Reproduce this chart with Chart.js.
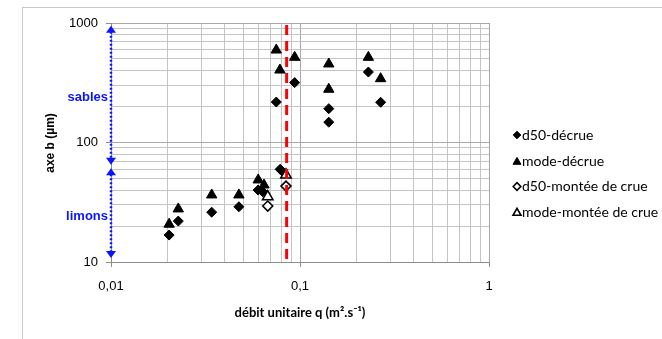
<!DOCTYPE html>
<html lang="fr">
<head>
<meta charset="UTF-8">
<title>Axe b en fonction du débit unitaire</title>
<script src="https://cdn.jsdelivr.net/npm/chart.js"></script>
<style>
  html, body { margin: 0; padding: 0; background: #fff; }
  #wrap { position: relative; width: 662px; height: 339px; overflow: hidden; }
  #frame { position: absolute; left: 22px; top: 7px; right: -2px; bottom: -2px;
           border-left: 1px solid #c8c8c8; border-top: 1px solid #c8c8c8; }
  canvas { position: absolute; left: 0; top: 0; }
</style>
</head>
<body>
<div id="wrap">
  <div id="frame"></div>
  <canvas id="chart" width="662" height="339"></canvas>
</div>
<script>
// débit unitaire q (m².s-1) and axe b (µm)
const d50DecrueQ = [0.0203, 0.0227, 0.0341, 0.0475, 0.0600, 0.0635, 0.0785, 0.0805, 0.0749, 0.0937, 0.142, 0.142, 0.230, 0.267];
const d50DecrueB = [16.8, 22.0, 26.1, 29.0, 40.0, 38.7, 59.7, 57.5, 218, 317, 192, 148, 389, 217];

const modeDecrueQ = [0.0203, 0.0227, 0.0341, 0.0475, 0.0601, 0.0645, 0.0749, 0.0783, 0.0937, 0.142, 0.142, 0.230, 0.267];
const modeDecrueB = [20.7, 27.8, 36.4, 36.4, 48.6, 44.1, 594, 404, 516, 454, 279, 516, 342];

const d50MonteeQ = [0.0675, 0.0843];
const d50MonteeB = [29.4, 43.2];

const modeMonteeQ = [0.0675, 0.0843];
const modeMonteeB = [35.2, 53.5];

// threshold line and grain size zones
const seuilQ = 0.085;
const zoneLabels = ['sables', 'limons'];
const zoneTop = [950, 61];
const zoneBottom = [65, 10.8];
const zoneLabelB = [240, 24];

// axes
const xMajor = [0.01, 0.1, 1];
const xTickLabels = ['0,01', '0,1', '1'];
const yMajor = [10, 100, 1000];
const yTickLabels = ['10', '100', '1000'];

function pts(xs, ys) { return xs.map((v, i) => ({ x: v, y: ys[i] })); }

// 1..9 multiples of each decade, for the grid
function decadeTicks(majors) {
  const out = [];
  for (let i = 0; i < majors.length - 1; i++) {
    for (let k = 1; k < 10; k++) out.push(majors[i] * k);
  }
  out.push(majors[majors.length - 1]);
  return out;
}
function isMajor(v, majors) { return majors.some(m => Math.abs(v - m) / m < 1e-6); }
function labelFor(v, majors, labels) {
  const i = majors.findIndex(m => Math.abs(v - m) / m < 1e-6);
  return i >= 0 ? labels[i] : '';
}

const datasets = [
  { label: 'd50-décrue', data: pts(d50DecrueQ, d50DecrueB), pointStyle: 'rectRot', pointRadius: 5,
    backgroundColor: '#000', borderColor: '#000', borderWidth: 1, order: 3 },
  { label: 'mode-décrue', data: pts(modeDecrueQ, modeDecrueB), pointStyle: 'triangle', pointRadius: 6,
    backgroundColor: '#000', borderColor: '#000', borderWidth: 1, order: 2 },
  { label: 'd50-montée de crue', data: pts(d50MonteeQ, d50MonteeB), pointStyle: 'rectRot', pointRadius: 5,
    backgroundColor: '#fff', borderColor: '#000', borderWidth: 1.6, order: 1 },
  { label: 'mode-montée de crue', data: pts(modeMonteeQ, modeMonteeB), pointStyle: 'triangle', pointRadius: 6,
    backgroundColor: '#fff', borderColor: '#000', borderWidth: 1.6, order: 0 }
];

const blue = '#0a14ff';

function arrowHead(ctx, x, tip, dir) {
  // dir = -1 points up, 1 points down
  ctx.beginPath();
  ctx.moveTo(x, tip);
  ctx.lineTo(x - 5, tip - dir * 7);
  ctx.lineTo(x + 5, tip - dir * 7);
  ctx.closePath();
  ctx.fill();
}

const overlay = {
  id: 'overlay',
  afterDatasetsDraw(chart) {
    const { ctx, scales: { x, y } } = chart;
    const px = x.getPixelForValue(seuilQ);
    ctx.save();
    ctx.strokeStyle = '#ff0000';
    ctx.lineWidth = 3;
    ctx.setLineDash([10, 6]);
    ctx.beginPath();
    ctx.moveTo(px, y.getPixelForValue(1000) + 2);
    ctx.lineTo(px, y.getPixelForValue(10));
    ctx.stroke();
    ctx.restore();
  },
  afterDraw(chart) {
    const { ctx, scales: { x, y } } = chart;
    const ax = x.getPixelForValue(0.01);
    ctx.save();

    // zone arrows
    ctx.strokeStyle = blue;
    ctx.fillStyle = blue;
    zoneLabels.forEach((lab, i) => {
      const t = y.getPixelForValue(zoneTop[i]);
      const b = y.getPixelForValue(zoneBottom[i]);
      ctx.lineWidth = 2.5;
      ctx.setLineDash([2, 2]);
      ctx.beginPath();
      ctx.moveTo(ax, t + 6);
      ctx.lineTo(ax, b - 6);
      ctx.stroke();
      ctx.setLineDash([]);
      arrowHead(ctx, ax, t, -1);
      arrowHead(ctx, ax, b, 1);
      ctx.font = 'bold 13px "Liberation Sans", Arial, sans-serif';
      ctx.textAlign = 'right';
      ctx.textBaseline = 'middle';
      ctx.fillText(lab, ax - 3, y.getPixelForValue(zoneLabelB[i]));
    });

    // axis titles
    ctx.fillStyle = '#000';
    ctx.font = 'bold 12px "Liberation Sans", Arial, sans-serif';
    ctx.textAlign = 'center';
    ctx.textBaseline = 'middle';
    ctx.save();
    ctx.translate(51, 143);
    ctx.rotate(-Math.PI / 2);
    ctx.fillText('axe b (µm)', 0, 0);
    ctx.restore();
    ctx.font = 'bold 13px Lato, "Noto Sans", sans-serif';
    ctx.fillText('débit unitaire q (m².s⁻¹)', (x.left + x.right) / 2, 313);

    // legend
    const ly = [135, 161, 186.5, 212];
    datasets.forEach((ds, i) => {
      ctx.fillStyle = ds.backgroundColor;
      ctx.strokeStyle = ds.borderColor;
      ctx.lineWidth = ds.borderWidth;
      const r = ds.pointStyle === 'triangle' ? 4.6 : 3.8;
      const my = ds.pointStyle === 'triangle' ? ly[i] + 1 : ly[i];
      Chart.helpers.drawPoint(ctx, { pointStyle: ds.pointStyle, radius: r, rotation: 0, borderWidth: ds.borderWidth }, 517, my);
      ctx.fillStyle = '#000';
      ctx.font = '14px Lato, "Noto Sans", sans-serif';
      ctx.textAlign = 'left';
      ctx.textBaseline = 'middle';
      ctx.fillText(ds.label, 522, ly[i]);
    });
    ctx.restore();
  }
};

const gridColor = (majors) => c => (c.tick && isMajor(c.tick.value, majors)) ? '#a8a8a8' : '#c4c4c4';
const tickColor = (majors) => c => (c.tick && isMajor(c.tick.value, majors)) ? '#8c8c8c' : 'rgba(0,0,0,0)';

new Chart(document.getElementById('chart'), {
  type: 'scatter',
  data: { datasets },
  options: {
    responsive: false,
    animation: false,
    layout: { padding: { left: 0, right: 173, top: 23, bottom: 0 } },
    plugins: { legend: { display: false }, tooltip: { enabled: false } },
    scales: {
      x: {
        type: 'logarithmic', min: 0.01, max: 1,
        afterBuildTicks: s => { s.ticks = decadeTicks(xMajor).map(v => ({ value: v })); },
        afterFit: s => { s.height = 77; },
        ticks: {
          autoSkip: false, maxRotation: 0, padding: 12, color: '#000',
          font: { family: '"Liberation Sans", Arial, sans-serif', size: 13 },
          callback: v => labelFor(v, xMajor, xTickLabels)
        },
        grid: { color: gridColor(xMajor), tickColor: tickColor(xMajor), tickLength: 5, lineWidth: 1 },
        border: { color: '#8c8c8c', width: 1 }
      },
      y: {
        type: 'logarithmic', min: 10, max: 1000,
        afterBuildTicks: s => { s.ticks = decadeTicks(yMajor).map(v => ({ value: v })); },
        afterFit: s => { s.width = 111; },
        ticks: {
          autoSkip: false, padding: 8, color: '#000',
          font: { family: '"Liberation Sans", Arial, sans-serif', size: 13 },
          callback: v => labelFor(v, yMajor, yTickLabels)
        },
        grid: { color: gridColor(yMajor), tickColor: tickColor(yMajor), tickLength: 5, lineWidth: 1 },
        border: { color: '#8c8c8c', width: 1 }
      }
    }
  },
  plugins: [overlay]
});
</script>
</body>
</html>
